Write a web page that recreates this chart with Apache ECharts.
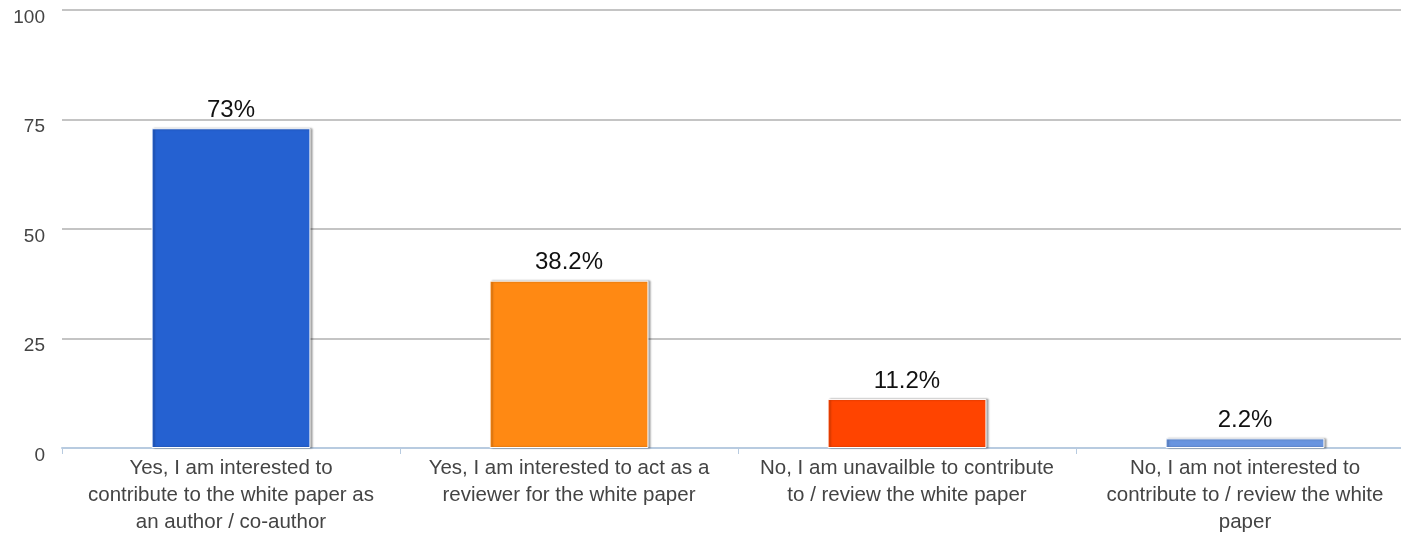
<!DOCTYPE html>
<html><head><meta charset="utf-8">
<script src="https://cdn.jsdelivr.net/npm/echarts@6/dist/echarts.min.js"></script>
<style>html,body{margin:0;padding:0;background:#fff;overflow:hidden}#c{width:1401px;height:533px}</style>
</head><body><div id="c"></div>
<script>
const categories = [
  "Yes, I am interested to\ncontribute to the white paper as\nan author / co-author",
  "Yes, I am interested to act as a\nreviewer for the white paper",
  "No, I am unavailble to contribute\nto / review the white paper",
  "No, I am not interested to\ncontribute to / review the white\npaper"
];
const values = [73, 38.2, 11.2, 2.2];
const colors = ["#2561d1", "#ff8913", "#ff4400", "#6995e0"];
const yTicks = [0, 25, 50, 75, 100];

const chart = echarts.init(document.getElementById('c'));
chart.setOption({
  animation: false,
  grid: {left: 62, top: 10, width: 1352, height: 438, containLabel: false, outerBoundsMode: 'none'},
  xAxis: {
    type: 'category', data: categories,
    axisLine: {lineStyle: {color: '#b8cbe0', width: 2}},
    axisTick: {show: true, length: 6, lineStyle: {color: '#b8cbe0'}},
    axisLabel: {color: '#444', fontSize: 20.5, fontFamily: 'Liberation Sans, Arial', lineHeight: 27, margin: 7, interval: 0}
  },
  yAxis: {
    type: 'value', min: yTicks[0], max: yTicks[yTicks.length-1], interval: 25,
    axisLine: {show: false}, axisTick: {show: false},
    splitLine: {lineStyle: {color: '#c4c4c4', width: 2}},
    axisLabel: {color: '#444', fontSize: 19, fontFamily: 'Liberation Sans, Arial', margin: 17, verticalAlign: 'top', lineHeight: 15}
  },
  series: [{
    type: 'bar', barWidth: '47%',
    data: values.map((v, i) => ({value: v, itemStyle: {color: colors[i]}})),
    itemStyle: {borderColor: '#fff', borderWidth: 1, shadowColor: 'rgba(0,0,0,0.35)', shadowOffsetX: 2, shadowOffsetY: 0, shadowBlur: 2},
    label: {show: true, position: 'top', distance: 6, color: '#111', fontSize: 24, fontFamily: 'Liberation Sans, Arial',
      formatter: p => p.value + '%'}
  }]
});
</script></body></html>
